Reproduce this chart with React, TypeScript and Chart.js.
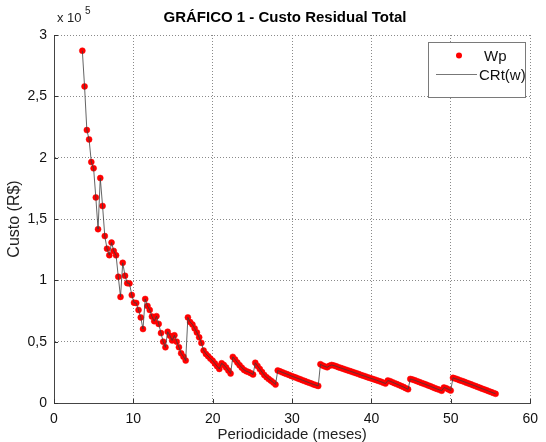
import React, { useEffect, useRef } from "react";
import { Chart, registerables } from "chart.js";

Chart.register(...registerables);

// Periodicidade (meses)
const periodicidade: number[] = [
  3.57, 3.85, 4.14, 4.42, 4.70, 4.99, 5.27, 5.55, 5.83, 6.12,
  6.40, 6.68, 6.97, 7.25, 7.53, 7.82, 8.10, 8.38, 8.66, 8.95,
  9.23, 9.51, 9.80, 10.08, 10.36, 10.65, 10.93, 11.21, 11.49, 11.78,
  12.06, 12.34, 12.63, 12.91, 13.19, 13.48, 13.76, 14.04, 14.32, 14.61,
  14.89, 15.17, 15.46, 15.74, 16.02, 16.31, 16.59, 16.87, 17.15, 17.44,
  17.72, 18.00, 18.29, 18.57, 18.85, 19.14, 19.42, 19.70, 19.99, 20.27,
  20.55, 20.83, 21.12, 21.40, 21.68, 21.97, 22.25, 22.53, 22.81, 23.10,
  23.38, 23.66, 23.95, 24.23, 24.51, 24.80, 25.08, 25.36, 25.64, 25.93,
  26.21, 26.49, 26.78, 27.06, 27.34, 27.63, 27.91, 28.19, 28.47, 28.76,
  29.04, 29.32, 29.61, 29.89, 30.17, 30.46, 30.74, 31.02, 31.30, 31.59,
  31.87, 32.15, 32.44, 32.72, 33.00, 33.29, 33.57, 33.85, 34.13, 34.42,
  34.70, 34.98, 35.27, 35.55, 35.83, 36.12, 36.40, 36.68, 36.96, 37.25,
  37.53, 37.81, 38.10, 38.38, 38.66, 38.95, 39.23, 39.51, 39.79, 40.08,
  40.36, 40.64, 40.93, 41.21, 41.49, 41.77, 42.06, 42.34, 42.62, 42.91,
  43.19, 43.47, 43.76, 44.04, 44.32, 44.61, 44.89, 45.17, 45.45, 45.74,
  46.02, 46.30, 46.59, 46.87, 47.15, 47.44, 47.72, 48.00, 48.28, 48.57,
  48.85, 49.13, 49.42, 49.70, 49.98, 50.27, 50.55, 50.83, 51.11, 51.40,
  51.68, 51.96, 52.25, 52.53, 52.81, 53.10, 53.38, 53.66, 53.94, 54.23,
  54.51, 54.79, 55.08, 55.36, 55.64,
];

// Custo residual total (R$)
const custo: number[] = [
  287200, 258100, 222500, 214900, 196400, 191300, 167600, 141700, 183400, 160600,
  136100, 125800, 120500, 130800, 124000, 120400, 102900, 86500, 114300, 103700,
  97700, 97500, 88000, 81800, 81500, 75800, 69800, 60300, 84800, 79100,
  75800, 70500, 66700, 70800, 64500, 57000, 50000, 45400, 58100, 54800,
  51000, 55200, 50000, 45500, 40500, 37800, 34600, 69800, 66000, 64000,
  60800, 57500, 53500, 49000, 42800, 40000, 38200, 36200, 34500, 32200,
  30000, 27800, 32400, 31000, 29000, 26500, 24000, 37600, 35500, 33000,
  30800, 28800, 27000, 25900, 25200, 24300, 23200, 32800, 30200, 27700,
  25200, 22800, 21000, 19500, 18200, 16700, 15000, 26500, 25800, 25000,
  24300, 23600, 22900, 22100, 21400, 20700, 20000, 19300, 18600, 17900,
  17200, 16500, 15800, 15100, 14500, 13900, 31600, 30500, 29800, 29100,
  30300, 31000, 30500, 29900, 29200, 28600, 28000, 27300, 26700, 26100,
  25500, 24800, 24200, 23600, 22900, 22300, 21700, 21000, 20400, 19800,
  19200, 18600, 17900, 17300, 16600, 15800, 18300, 17800, 17000, 16200,
  15400, 14600, 13800, 13000, 12100, 11200, 19600, 19100, 18500, 17800,
  17100, 16400, 15700, 15000, 14300, 13600, 12800, 12100, 11400, 10700,
  10000, 12600, 12000, 11100, 10100, 20500, 19900, 19300, 18600, 18000,
  17300, 16600, 15900, 15200, 14500, 13800, 13100, 12400, 11700, 11000,
  10300, 9600, 8900, 8200, 7500,
];

const xTicks: number[] = [0, 10, 20, 30, 40, 50, 60];
const yTicks: number[] = [0, 50000, 100000, 150000, 200000, 250000, 300000];

const TITLE = "GRÁFICO 1 - Custo Residual Total";
const X_TITLE = "Periodicidade (meses)";
const Y_TITLE = "Custo (R$)";
const LEGEND_POINTS = "Wp";
const LEGEND_LINE = "CRt(w)";
const FONT = '"Liberation Sans", Arial, Helvetica, sans-serif';

const overlay = {
  id: "overlay",
  afterDraw(chart: any) {
    const { ctx, chartArea: ca, scales } = chart;
    ctx.save();
    // inward tick marks
    ctx.strokeStyle = "#333";
    ctx.lineWidth = 1;
    for (const v of xTicks) {
      const px = Math.round(scales.x.getPixelForValue(v)) + 0.5;
      ctx.beginPath();
      ctx.moveTo(px, ca.bottom);
      ctx.lineTo(px, ca.bottom - 4);
      ctx.stroke();
    }
    for (const v of yTicks) {
      const py = Math.round(scales.y.getPixelForValue(v)) + 0.5;
      ctx.beginPath();
      ctx.moveTo(ca.left, py);
      ctx.lineTo(ca.left + 4, py);
      ctx.stroke();
    }
    ctx.fillStyle = "#000";
    // title
    ctx.font = `bold 15px ${FONT}`;
    ctx.textAlign = "center";
    ctx.textBaseline = "alphabetic";
    ctx.fillText(TITLE, 285, 22);
    // exponent label
    ctx.font = `13px ${FONT}`;
    ctx.textAlign = "left";
    ctx.fillStyle = "#222";
    ctx.fillText("x 10", ca.left + 3, 22);
    ctx.font = `10px ${FONT}`;
    ctx.fillText("5", ca.left + 31, 14);
    // axis titles
    ctx.font = `15px ${FONT}`;
    ctx.textAlign = "center";
    ctx.fillText(X_TITLE, (ca.left + ca.right) / 2, 439);
    ctx.save();
    ctx.font = `16px ${FONT}`;
    ctx.translate(19, (ca.top + ca.bottom) / 2);
    ctx.rotate(-Math.PI / 2);
    ctx.fillText(Y_TITLE, 0, 0);
    ctx.restore();
    // legend
    const lx = 428.5, ly = 42.5, lw = 97, lh = 55;
    ctx.fillStyle = "#fff";
    ctx.fillRect(lx, ly, lw, lh);
    ctx.strokeStyle = "#7a7a7a";
    ctx.lineWidth = 1;
    ctx.strokeRect(lx, ly, lw, lh);
    ctx.fillStyle = "#ff0000";
    ctx.beginPath();
    ctx.arc(459, 55.5, 3, 0, Math.PI * 2);
    ctx.fill();
    ctx.strokeStyle = "#777";
    ctx.beginPath();
    ctx.moveTo(436, 74.5);
    ctx.lineTo(477, 74.5);
    ctx.stroke();
    ctx.fillStyle = "#111";
    ctx.font = `15px ${FONT}`;
    ctx.textAlign = "left";
    ctx.fillText(LEGEND_POINTS, 484, 61);
    ctx.fillText(LEGEND_LINE, 479, 80);
    ctx.restore();
  },
};

export default function App() {
  const ref = useRef<HTMLCanvasElement | null>(null);
  useEffect(() => {
    if (!ref.current) return;
    const pts = periodicidade.map((x, i) => ({ x, y: custo[i] }));
    const chart = new Chart(ref.current, {
      type: "scatter",
      data: {
        datasets: [
          {
            label: LEGEND_LINE,
            data: pts,
            showLine: true,
            borderColor: "#3c3c3c",
            borderWidth: 0.8,
            pointRadius: 0,
            fill: false,
            tension: 0,
            order: 0,
          } as any,
          {
            label: LEGEND_POINTS,
            data: pts,
            showLine: false,
            pointRadius: 3,
            pointBackgroundColor: "#ff0000",
            pointBorderColor: "#ff0000",
            pointBorderWidth: 0.5,
            order: 1,
          } as any,
        ],
      },
      options: {
        animation: false,
        responsive: false,
        maintainAspectRatio: false,
        events: [],
        layout: { padding: { top: 35, right: 10, left: 0, bottom: 0 } },
        plugins: {
          legend: { display: false },
          tooltip: { enabled: false },
          title: { display: false },
        },
        scales: {
          x: {
            type: "linear",
            min: 0,
            max: 60,
            afterFit: (s: any) => {
              s.height = 39;
            },
            afterBuildTicks: (s: any) => {
              s.ticks = xTicks.map((v) => ({ value: v }));
            },
            ticks: {
              padding: 8,
              color: "#111",
              maxRotation: 0,
              font: { family: FONT, size: 14 },
            },
            grid: { color: "#8a8a8a", lineWidth: 1, drawTicks: false },
            border: { display: true, color: "#444", width: 1, dash: [1, 2] },
          },
          y: {
            type: "linear",
            min: 0,
            max: 300000,
            afterFit: (s: any) => {
              s.width = 54;
            },
            afterBuildTicks: (s: any) => {
              s.ticks = yTicks.map((v) => ({ value: v }));
            },
            ticks: {
              padding: 7,
              color: "#111",
              font: { family: FONT, size: 14 },
              callback: (v: any) => String(Number(v) / 100000).replace(".", ","),
            },
            grid: { color: "#8a8a8a", lineWidth: 1, drawTicks: false },
            border: { display: true, color: "#444", width: 1, dash: [1, 2] },
          },
        },
      },
      plugins: [overlay],
    });
    return () => chart.destroy();
  }, []);
  return (
    <div style={{ position: "absolute", left: 0, top: 0, width: 546, height: 442, background: "#fff" }}>
      <canvas ref={ref} width={546} height={442} style={{ display: "block" }} />
    </div>
  );
}
